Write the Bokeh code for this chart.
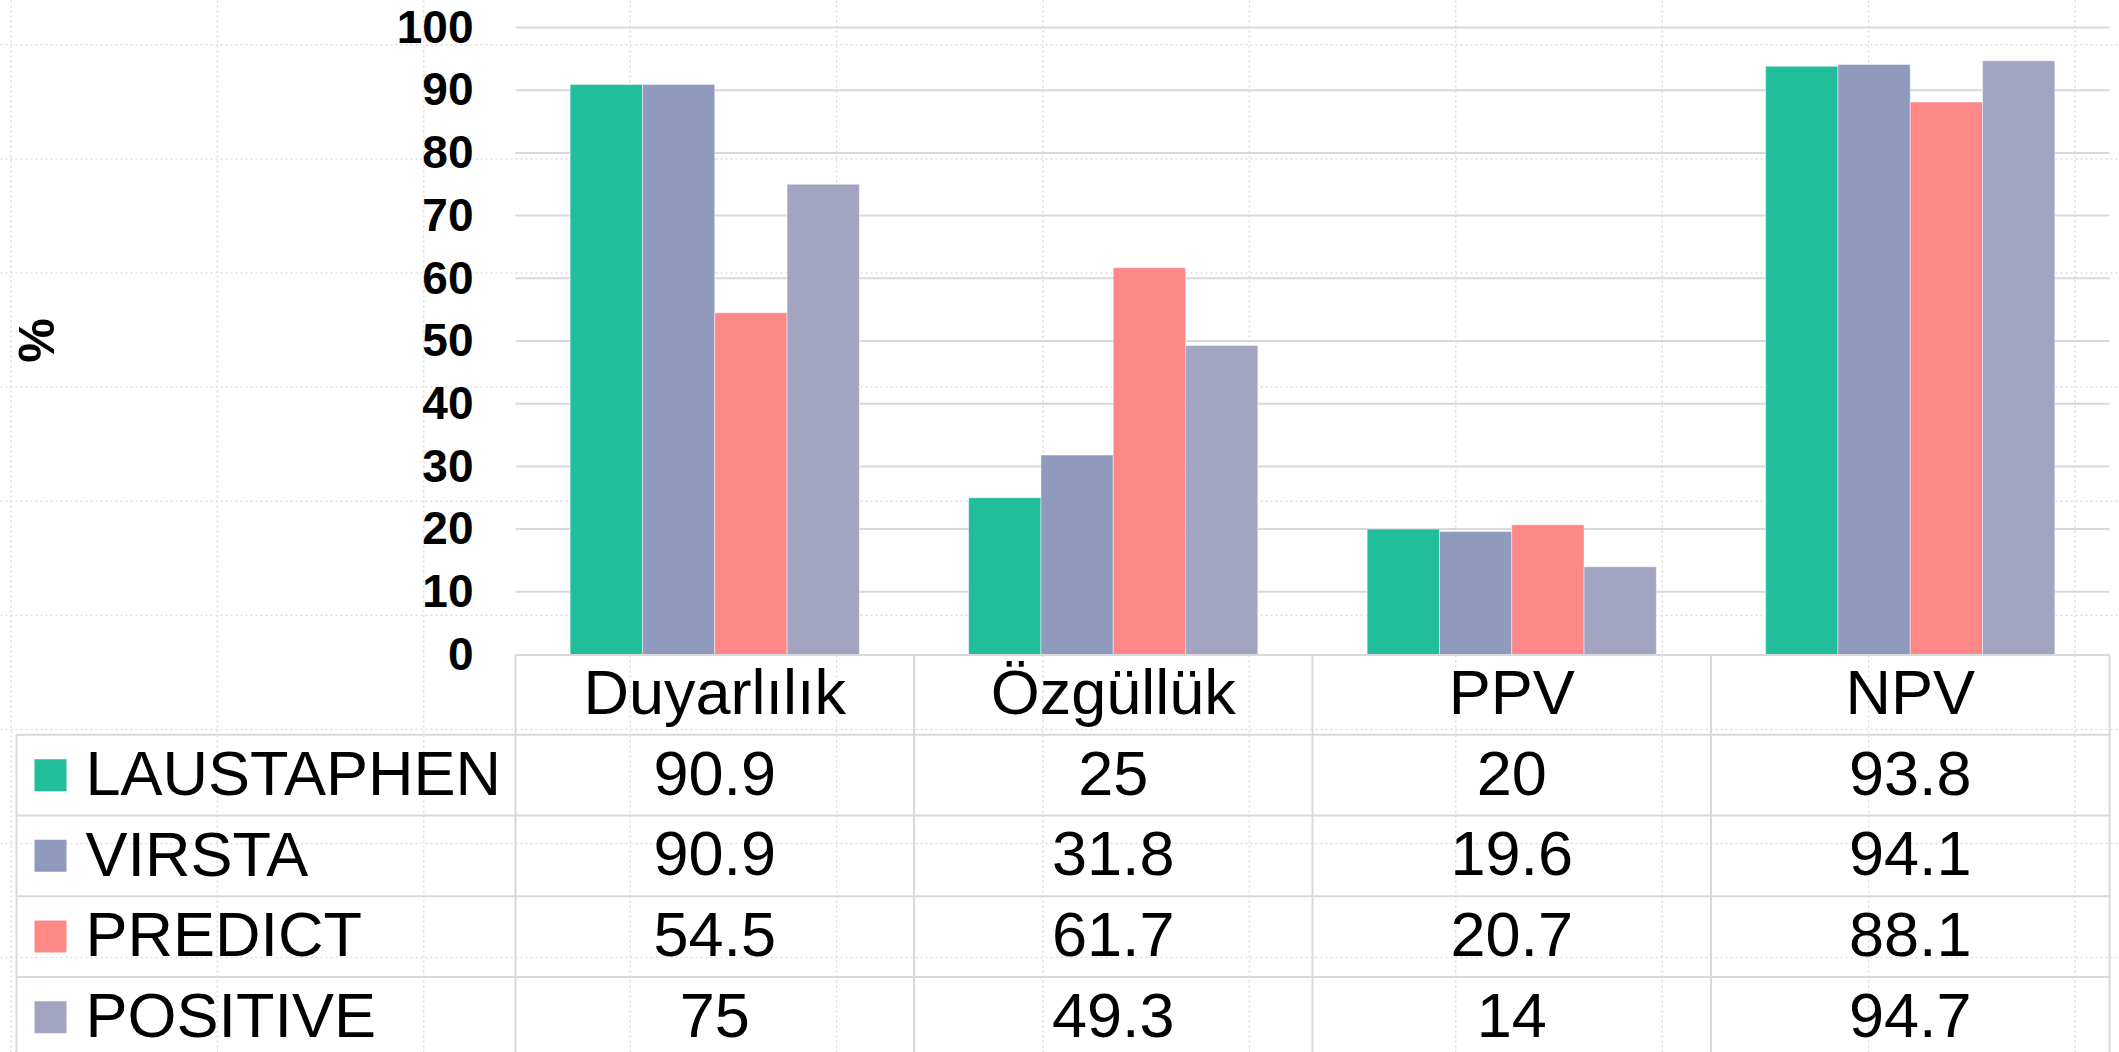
import math
from bokeh.plotting import figure
from bokeh.models import Range1d, ColumnDataSource
from bokeh.transform import dodge
from bokeh.core.properties import value
from bokeh.embed import file_html
from bokeh.resources import INLINE

# ---------------- data ----------------
categories = ["Duyarlılık", "Özgüllük", "PPV", "NPV"]
series_names = ["LAUSTAPHEN", "VIRSTA", "PREDICT", "POSITIVE"]
laustaphen = [90.9, 25, 20, 93.8]
virsta = [90.9, 31.8, 19.6, 94.1]
predict = [54.5, 61.7, 20.7, 88.1]
positive = [75, 49.3, 14, 94.7]
yticks = [0, 10, 20, 30, 40, 50, 60, 70, 80, 90, 100]
y_title = "%"

series_values = [laustaphen, virsta, predict, positive]
colors = ["#20BE9A", "#8F9ABC", "#FE8888", "#A3A3C2"]

# ---------------- layout (reference pixel geometry) ----------------
W, H = 2119, 1052
OFF = 0
X0, PX = 515.0, 398.5      # ref px of slot 0 start, px per category slot
Y0, PY = 654.0, 6.27       # ref px of value 0, px per value unit
BASE_FIX = 0.375           # renderer places alphabetic baseline ~0.375em low


def rx(X):
    return (X - X0) / PX


def ry(Y):
    return (Y0 - Y) / PY


def rbase(Y, fs):
    return ry(Y - BASE_FIX * fs)


x_start, x_end = rx(OFF), rx(OFF + W)
y_start, y_end = ry(OFF + H), ry(OFF)

p = figure(width=W, height=H,
           x_range=Range1d(x_start, x_end), y_range=Range1d(y_start, y_end),
           output_backend="svg", toolbar_location=None,
           x_axis_location=None, y_axis_location=None,
           min_border=0, outline_line_color=None,
           background_fill_color="white", border_fill_color="white")
p.xgrid.visible = False
p.ygrid.visible = False

FONT = value("Liberation Sans")
GRID = "#D9D9D9"

# spreadsheet dotted cell lines in the background
vx = [10.5 + 206.4 * k for k in range(11)]
hy = [44.3 + 114.1 * k for k in range(9)]
p.segment(x0=[rx(v) for v in vx], y0=[y_start] * len(vx),
          x1=[rx(v) for v in vx], y1=[y_end] * len(vx),
          line_color="#DCDCDC", line_width=1.5, line_dash="2 3")
p.segment(x0=[x_start] * len(hy), y0=[ry(v) for v in hy],
          x1=[x_end] * len(hy), y1=[ry(v) for v in hy],
          line_color="#DCDCDC", line_width=1.5, line_dash="2 3")

ncat = len(categories)
# horizontal value gridlines
gt = [t for t in yticks if t > 0]
p.segment(x0=[0] * len(gt), y0=gt, x1=[ncat] * len(gt), y1=gt,
          line_color=GRID, line_width=2)

# ---------------- bars ----------------
src = ColumnDataSource(dict(x=[i + 0.5 for i in range(ncat)],
                            **{n: v for n, v in zip(series_names, series_values)}))
bw = 72.3 / PX
for j, (name, col) in enumerate(zip(series_names, colors)):
    p.vbar(x=dodge("x", (j - 1.5) * bw), top=name, bottom=0, width=bw, source=src,
           fill_color=col, line_color="white", line_alpha=0.45, line_width=1)

# ---------------- y tick labels & title ----------------
TICK_FS = 46
p.text(x=[rx(473)] * len(yticks),
       y=[t + rbase(Y0 + 16.5, TICK_FS) for t in yticks],
       text=[str(t) for t in yticks], text_align="right", text_baseline="alphabetic",
       text_font=FONT, text_font_style="bold", text_font_size=f"{TICK_FS}px",
       text_color="black")
TITLE_FS = 50
p.text(x=[rx(55 - BASE_FIX * TITLE_FS)], y=[ry(340)], text=[y_title], angle=math.pi / 2,
       text_align="center", text_baseline="alphabetic",
       text_font=FONT, text_font_style="bold", text_font_size=f"{TITLE_FS}px",
       text_color="black")

# ---------------- data table ----------------
FS = 63
header_top = 654.5
header_bottom = 734.3
row_h = 80.7
row_lines = [header_bottom + row_h * k for k in range(len(series_names))]
row_centers = [header_bottom + row_h * (k + 0.5) for k in range(len(series_names))]
bottom = ry(OFF + H + 10)

# header top line
p.segment(x0=[0], y0=[ry(header_top)], x1=[ncat], y1=[ry(header_top)],
          line_color=GRID, line_width=2)
# column verticals
p.segment(x0=list(range(ncat + 1)), y0=[ry(header_top)] * (ncat + 1),
          x1=list(range(ncat + 1)), y1=[bottom] * (ncat + 1),
          line_color=GRID, line_width=2)
# legend column left border
p.segment(x0=[rx(16)], y0=[ry(header_bottom)], x1=[rx(16)], y1=[bottom],
          line_color=GRID, line_width=2)
# row lines
p.segment(x0=[rx(16)] * len(row_lines), y0=[ry(v) for v in row_lines],
          x1=[ncat] * len(row_lines), y1=[ry(v) for v in row_lines],
          line_color=GRID, line_width=2)

# header category names
p.text(x=[i + 0.5 for i in range(ncat)], y=[rbase(715, FS)] * ncat, text=categories,
       text_align="center", text_baseline="alphabetic",
       text_font=FONT, text_font_size=f"{FS}px", text_color="black")

# rows
for k, (name, col, vals) in enumerate(zip(series_names, colors, series_values)):
    cy = row_centers[k]
    base = cy + 21.5
    p.rect(x=[rx(50)], y=[ry(cy)], width=32, height=32,
           width_units="screen", height_units="screen",
           fill_color=col, line_color=None)
    p.text(x=[rx(85)], y=[rbase(base, FS)], text=[name], text_align="left",
           text_baseline="alphabetic", text_font=FONT, text_font_size=f"{FS}px",
           text_color="black")
    p.text(x=[i + 0.5 for i in range(ncat)], y=[rbase(base, FS)] * ncat,
           text=[f"{v:g}" for v in vals], text_align="center",
           text_baseline="alphabetic", text_font=FONT, text_font_size=f"{FS}px",
           text_color="black")

open("out.html", "w").write(file_html(p, INLINE))
